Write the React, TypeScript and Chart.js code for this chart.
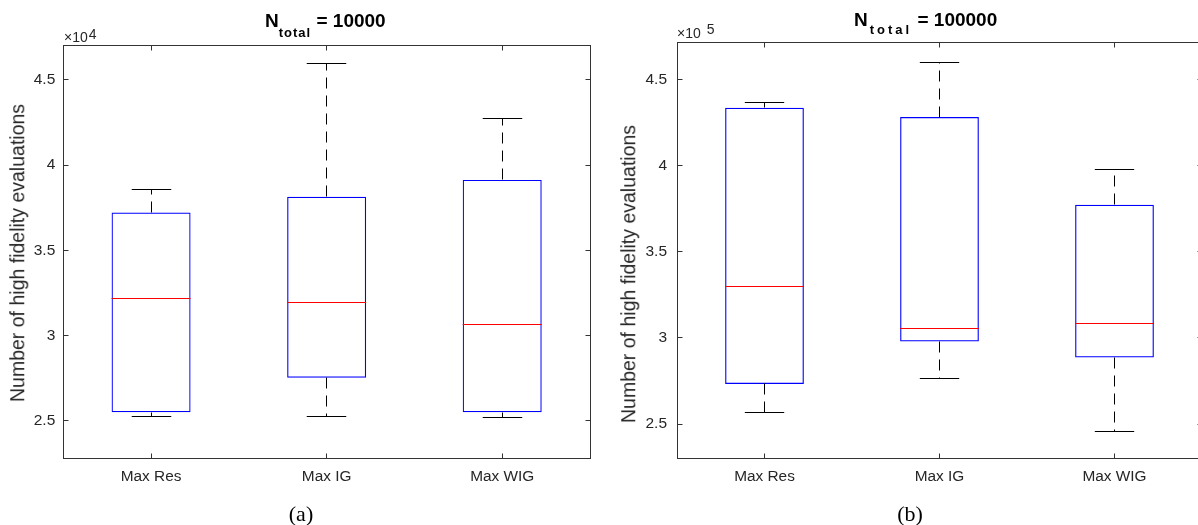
import React, { useEffect, useRef } from "react";
import { Chart, registerables } from "chart.js";

Chart.register(...registerables);

// ---------- data ----------
const categories = ["Max Res", "Max IG", "Max WIG"];

// Panel (a): N_total = 10000
const aLowerWhisker = [25280, 25290, 25220];
const aQ1 = [25510, 27540, 25510];
const aMedian = [32210, 31950, 30660];
const aQ3 = [37230, 38150, 39140];
const aUpperWhisker = [38570, 45960, 42730];
const aYMin = 22800;
const aYMax = 47050;
const aYTicks = [25000, 30000, 35000, 40000, 45000];
const aExponent = 4;

// Panel (b): N_total = 100000
const bLowerWhisker = [256800, 276400, 245600];
const bQ1 = [273300, 297900, 288600];
const bMedian = [329700, 305400, 308300];
const bQ3 = [433400, 428100, 377200];
const bUpperWhisker = [436800, 460000, 397500];
const bYMin = 229900;
const bYMax = 471200;
const bYTicks = [250000, 300000, 350000, 400000, 450000];
const bExponent = 5;

const yAxisLabel = "Number of high fidelity evaluations";

const SANS = "'Liberation Sans', Arial, Helvetica, sans-serif";
const SERIF = "'Liberation Serif', 'Times New Roman', serif";
const TEXT = "#262626";

type Panel = {
  lower: number[];
  q1: number[];
  med: number[];
  q3: number[];
  upper: number[];
  yMin: number;
  yMax: number;
  yTicks: number[];
  exp: number;
  padTop: number;
  padRight: number;
  yWidth: number;
  xHeight: number;
  yTickPad: number;
};

const snap = (v: number) => Math.round(v - 0.5) + 0.5;

function makeDecor(p: Panel) {
  return {
    id: "boxDecor",
    afterDatasetsDraw(chart: any) {
      const ctx = chart.ctx;
      const y = chart.scales.y;
      const meta = chart.getDatasetMeta(0);
      ctx.save();
      const line = (x1: number, y1: number, x2: number, y2: number) => {
        ctx.beginPath();
        ctx.moveTo(x1, y1);
        ctx.lineTo(x2, y2);
        ctx.stroke();
      };
      meta.data.forEach((bar: any, i: number) => {
        const props = bar.getProps(["x", "width"], true);
        const x = snap(props.x);
        const half = props.width / 2;
        const capHalf = props.width / 4;
        const yLo = snap(y.getPixelForValue(p.lower[i]));
        const yQ1 = snap(y.getPixelForValue(p.q1[i]));
        const yMed = snap(y.getPixelForValue(p.med[i]));
        const yQ3 = snap(y.getPixelForValue(p.q3[i]));
        const yUp = snap(y.getPixelForValue(p.upper[i]));
        ctx.lineWidth = 1;
        // whiskers (dashed)
        ctx.strokeStyle = "#000000";
        ctx.setLineDash([11, 7]);
        line(x, yQ3, x, yUp);
        line(x, yQ1, x, yLo);
        ctx.setLineDash([]);
        // caps
        line(x - capHalf, yUp, x + capHalf, yUp);
        line(x - capHalf, yLo, x + capHalf, yLo);
        // median
        ctx.strokeStyle = "#ff0000";
        line(props.x - half, yMed, props.x + half, yMed);
      });
      ctx.restore();
    },
    afterDraw(chart: any) {
      const ctx = chart.ctx;
      const ca = chart.chartArea;
      const left = snap(ca.left);
      const right = snap(ca.right);
      const top = snap(ca.top);
      const bottom = snap(ca.bottom);
      const xs = chart.scales.x;
      const ys = chart.scales.y;
      ctx.save();
      ctx.strokeStyle = "#333333";
      ctx.lineWidth = 1;
      ctx.setLineDash([]);
      ctx.strokeRect(left, top, right - left, bottom - top);
      const tl = 5;
      ctx.beginPath();
      ys.ticks.forEach((_t: any, i: number) => {
        const py = snap(ys.getPixelForTick(i));
        ctx.moveTo(left, py);
        ctx.lineTo(left + tl, py);
        ctx.moveTo(right, py);
        ctx.lineTo(right - tl, py);
      });
      xs.ticks.forEach((_t: any, i: number) => {
        const px = snap(xs.getPixelForTick(i));
        ctx.moveTo(px, bottom);
        ctx.lineTo(px, bottom - tl);
        ctx.moveTo(px, top);
        ctx.lineTo(px, top + tl);
      });
      ctx.stroke();
      ctx.restore();
    },
  };
}

function buildChart(canvas: HTMLCanvasElement, p: Panel) {
  const div = Math.pow(10, p.exp);
  return new Chart(canvas, {
    type: "bar",
    data: {
      labels: categories,
      datasets: [
        {
          data: p.q1.map((v, i) => [v, p.q3[i]]) as any,
          backgroundColor: "rgba(0,0,0,0)",
          borderColor: "#0000ff",
          borderWidth: 1.2,
          borderSkipped: false,
          barPercentage: 0.45,
          categoryPercentage: 1,
        },
      ],
    },
    options: {
      responsive: false,
      maintainAspectRatio: false,
      animation: false,
      events: [],
      layout: { padding: { top: p.padTop, right: p.padRight, left: 0, bottom: 0 } },
      plugins: {
        legend: { display: false },
        tooltip: { enabled: false },
        title: { display: false },
      },
      scales: {
        x: {
          grid: { display: false, drawTicks: false },
          border: { display: false },
          ticks: {
            color: TEXT,
            padding: 9,
            font: { family: SANS, size: 15.4 },
          },
          afterFit: (s: any) => {
            s.height = p.xHeight;
          },
        },
        y: {
          min: p.yMin,
          max: p.yMax,
          grid: { display: false, drawTicks: false },
          border: { display: false },
          afterBuildTicks: (s: any) => {
            s.ticks = p.yTicks.map((v) => ({ value: v }));
          },
          ticks: {
            color: TEXT,
            padding: p.yTickPad,
            font: { family: SANS, size: 15.5 },
            callback: (v: any) => String(Math.round((Number(v) / div) * 100) / 100),
          },
          afterFit: (s: any) => {
            s.width = p.yWidth;
          },
        },
      },
    },
    plugins: [makeDecor(p) as any],
  });
}

const panelA: Panel = {
  lower: aLowerWhisker,
  q1: aQ1,
  med: aMedian,
  q3: aQ3,
  upper: aUpperWhisker,
  yMin: aYMin,
  yMax: aYMax,
  yTicks: aYTicks,
  exp: aExponent,
  padTop: 45,
  padRight: 10,
  yWidth: 63.3,
  xHeight: 66.5,
  yTickPad: 8,
};

const panelB: Panel = {
  lower: bLowerWhisker,
  q1: bQ1,
  med: bMedian,
  q3: bQ3,
  upper: bUpperWhisker,
  yMin: bYMin,
  yMax: bYMax,
  yTicks: bYTicks,
  exp: bExponent,
  padTop: 42.7,
  padRight: 18,
  yWidth: 77,
  xHeight: 66.3,
  yTickPad: 10,
};

export default function App() {
  const refA = useRef<HTMLCanvasElement | null>(null);
  const refB = useRef<HTMLCanvasElement | null>(null);

  useEffect(() => {
    document.body.style.margin = "0";
    document.body.style.background = "#ffffff";
    const ca = buildChart(refA.current!, panelA);
    const cb = buildChart(refB.current!, panelB);
    return () => {
      ca.destroy();
      cb.destroy();
    };
  }, []);

  const abs = (extra: React.CSSProperties): React.CSSProperties => ({
    position: "absolute",
    whiteSpace: "nowrap",
    lineHeight: 1,
    ...extra,
  });

  return (
    <div
      style={{
        position: "relative",
        width: 1198,
        height: 525,
        overflow: "hidden",
        background: "#ffffff",
      }}
    >
      <canvas ref={refA} width={600} height={525} style={{ position: "absolute", left: 0, top: 0 }} />
      <canvas ref={refB} width={620} height={525} style={{ position: "absolute", left: 600, top: 0 }} />

      {/* titles */}
      <div style={abs({ left: 265, top: 11.2, fontFamily: SANS, fontWeight: "bold", fontSize: 19, color: "#000" })}>
        <span>N</span>
        <span style={{ fontSize: 13, position: "relative", top: 9.4, letterSpacing: 1 }}>total</span>
        <span> = 10000</span>
      </div>
      <div style={abs({ left: 854, top: 9.9, fontFamily: SANS, fontWeight: "bold", fontSize: 19, color: "#000" })}>
        <span>N</span>
        <span style={{ fontSize: 13, position: "relative", top: 8, letterSpacing: 3, marginLeft: 2 }}>total</span>
        <span> = 100000</span>
      </div>

      {/* exponent labels */}
      <div style={abs({ left: 64, top: 30, fontFamily: SANS, fontSize: 14, color: TEXT })}>
        <span>×10</span>
        <span style={{ position: "relative", top: -3.5, marginLeft: 1 }}>{aExponent}</span>
      </div>
      <div style={abs({ left: 677, top: 25.5, fontFamily: SANS, fontSize: 14, color: TEXT })}>
        <span>×10</span>
        <span style={{ position: "relative", top: -4, marginLeft: 6 }}>{bExponent}</span>
      </div>

      {/* y axis labels */}
      <div
        style={abs({
          left: 17.5,
          top: 252.5,
          fontFamily: SANS,
          fontSize: 19.5,
          color: TEXT,
          transform: "translate(-50%, -50%) rotate(-90deg)",
        })}
      >
        {yAxisLabel}
      </div>
      <div
        style={abs({
          left: 629,
          top: 273.5,
          fontFamily: SANS,
          fontSize: 19.5,
          color: TEXT,
          transform: "translate(-50%, -50%) rotate(-90deg)",
        })}
      >
        {yAxisLabel}
      </div>

      {/* captions */}
      <div style={abs({ left: 301, top: 514, fontFamily: SERIF, fontSize: 22, color: "#000", transform: "translate(-50%, -50%)" })}>
        (a)
      </div>
      <div style={abs({ left: 910, top: 514, fontFamily: SERIF, fontSize: 22, color: "#000", transform: "translate(-50%, -50%)" })}>
        (b)
      </div>
    </div>
  );
}
